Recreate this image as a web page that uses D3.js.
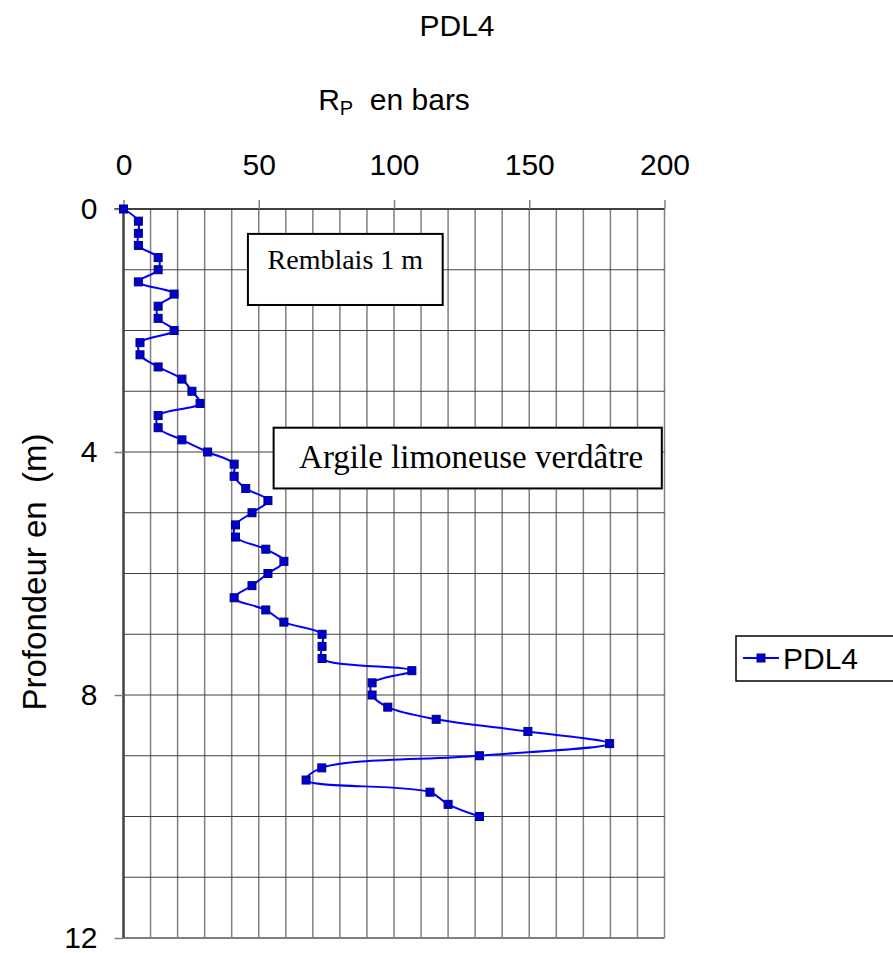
<!DOCTYPE html>
<html><head><meta charset="utf-8">
<script src="https://cdn.jsdelivr.net/npm/d3@7"></script>
<style>body{margin:0;background:#fff}svg{display:block}</style>
</head><body>
<script>
// Data: depth (m) and penetration resistance Rp (bars)
const depths = [0,0.2,0.4,0.6,0.8,1.0,1.2,1.4,1.6,1.8,2.0,2.2,2.4,2.6,2.8,3.0,3.2,3.4,3.6,3.8,4.0,4.2,4.4,4.6,4.8,5.0,5.2,5.4,5.6,5.8,6.0,6.2,6.4,6.6,6.8,7.0,7.2,7.4,7.6,7.8,8.0,8.2,8.4,8.6,8.8,9.0,9.2,9.4,9.6,9.8,10.0];
const rp = [0,5.5,5.5,5.5,12.8,12.8,5.5,18.7,12.8,12.8,18.7,6.1,6.1,12.8,21.6,25.3,28.3,12.8,12.8,21.6,31.1,40.9,40.9,45.2,53.4,47.5,41.4,41.4,52.6,59.3,53.4,47.5,40.9,52.6,59.3,73.4,73.4,73.4,106.6,91.9,91.9,97.7,115.6,149.5,179.7,131.6,73.3,67.5,113.3,120,131.6];
const xTicks = [0,50,100,150,200];
const yTicks = [0,4,8,12];
const seriesName = "PDL4";
const chartTitle = "PDL4";
const annotations = [
  {text:"Remblais 1 m", x0:46, x1:118, d0:0.41, d1:1.58, size:28, cx:82, base:0.99},
  {text:"Argile limoneuse verdâtre", x0:55.5, x1:199, d0:3.6, d1:4.6, size:33, cx:128.5, base:4.27}
];

const W=893,H=953;
const svg=d3.select("body").append("svg").attr("width",W).attr("height",H);
const x=d3.scaleLinear().domain([0,200]).range([123.5,664.5]);
const y=d3.scaleLinear().domain([0,12]).range([209,938]);

// gridlines
svg.append("g").selectAll("line").data(d3.range(10,201,10)).join("line")
  .attr("x1",d=>x(d)).attr("x2",d=>x(d)).attr("y1",y(0)).attr("y2",y(12))
  .attr("stroke","#808080").attr("stroke-width",1.5);
svg.append("g").selectAll("line").data(d3.range(1,13,1)).join("line")
  .attr("x1",x(0)).attr("x2",x(200)).attr("y1",d=>y(d)).attr("y2",d=>y(d))
  .attr("stroke",d=>d===12?"#808080":"#404040").attr("stroke-width",d=>d===12?2:1.2);

// axes
const ff="Arial, 'Liberation Sans', sans-serif";
const xAxis=d3.axisTop(x).tickValues(xTicks).tickSize(9).tickPadding(25);
const gx=svg.append("g").attr("transform",`translate(0,${y(0)})`).call(xAxis);
gx.select(".domain").attr("stroke","#404040").attr("stroke-width",2.2).attr("d",`M${x(0)-9},0H${x(200)}`);
gx.selectAll(".tick line").attr("stroke","#808080").attr("stroke-width",1.5);
gx.selectAll("text").attr("font-family",ff).attr("font-size",30).attr("fill","#000");

const yAxis=d3.axisLeft(y).tickValues(yTicks).tickSize(9).tickPadding(17);
const gy=svg.append("g").attr("transform",`translate(${x(0)},0)`).call(yAxis);
gy.select(".domain").attr("stroke","#404040").attr("stroke-width",2.5).attr("d",`M0,${y(0)}V${y(12)}`);
gy.selectAll(".tick line").attr("stroke","#808080").attr("stroke-width",1.5);
gy.selectAll("text").attr("font-family",ff).attr("font-size",30).attr("fill","#000");

// annotation boxes
annotations.forEach(a=>{
  const g=svg.append("g");
  g.append("rect").attr("x",x(a.x0)).attr("y",y(a.d0)).attr("width",x(a.x1)-x(a.x0)).attr("height",y(a.d1)-y(a.d0))
   .attr("fill","#fff").attr("stroke","#000").attr("stroke-width",2);
  g.append("text").attr("x",x(a.cx)).attr("y",y(a.base))
   .attr("text-anchor","middle").attr("font-family","'Liberation Serif','Times New Roman',serif")
   .attr("font-size",a.size).text(a.text);
});

// series line
const pts=depths.map((d,i)=>[rp[i],d]);
const line=d3.line().x(d=>x(d[0])).y(d=>y(d[1])).curve(d3.curveCatmullRom.alpha(0.5));
svg.append("path").attr("d",line(pts)).attr("fill","none").attr("stroke","#0000FF").attr("stroke-width",2);
svg.append("g").selectAll("rect").data(pts).join("rect")
  .attr("x",d=>x(d[0])-4).attr("y",d=>y(d[1])-4).attr("width",8).attr("height",8)
  .attr("fill","#0000CC").attr("stroke","#000080").attr("stroke-width",1);

// titles
svg.append("text").attr("x",457).attr("y",36).attr("text-anchor","middle").attr("font-family",ff).attr("font-size",30).text(chartTitle);
const xl=svg.append("text").attr("x",394).attr("y",110).attr("text-anchor","middle").attr("font-family",ff).attr("font-size",30);
xl.append("tspan").text("R");
xl.append("tspan").attr("font-size",20).attr("dy",5).text("P");
xl.append("tspan").attr("dy",-5).text("\u00a0 en bars");
svg.append("text").attr("transform","translate(46,572) rotate(-90)").attr("text-anchor","middle")
  .attr("font-family",ff).attr("font-size",33).text("Profondeur en\u00a0 (m)");

// legend
const lg=svg.append("g");
lg.append("rect").attr("x",736).attr("y",636).attr("width",170).attr("height",45).attr("fill","#fff").attr("stroke","#000").attr("stroke-width",1.5);
lg.append("line").attr("x1",743).attr("x2",779).attr("y1",658).attr("y2",658).attr("stroke","#0000FF").attr("stroke-width",2);
lg.append("rect").attr("x",757).attr("y",654).attr("width",8).attr("height",8).attr("fill","#0000CC").attr("stroke","#000080");
lg.append("text").attr("x",783).attr("y",669).attr("font-family",ff).attr("font-size",30).text(seriesName);
</script>
</body></html>
